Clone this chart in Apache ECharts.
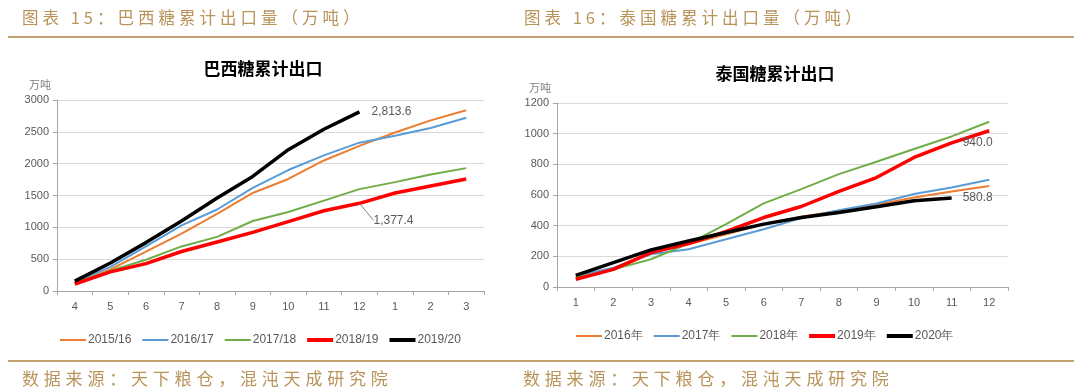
<!DOCTYPE html>
<html><head><meta charset="utf-8">
<script src="https://cdn.jsdelivr.net/npm/echarts@6/dist/echarts.min.js"></script>
<style>
html,body{margin:0;padding:0;background:#fff;}
#wrap{position:relative;width:1080px;height:391px;overflow:hidden;}
#chart{position:absolute;left:0;top:0;width:1080px;height:391px;}
.hd{position:absolute;font-family:"Noto Sans CJK SC";color:#b8935a;white-space:nowrap;line-height:20px;}
.h1{font-size:16.5px;letter-spacing:4px;}
.f1{font-size:17px;letter-spacing:4.8px;}
.rule{position:absolute;height:2px;background:#c4a373;}
</style></head>
<body><div id="wrap"><div id="chart"></div>
<div class="rule" style="left:8px;top:36px;width:1066px"></div>
<div class="rule" style="left:8px;top:360px;width:1066px"></div>
<div class="hd h1" style="left:22px;top:7px">图表 15：巴西糖累计出口量（万吨）</div>
<div class="hd h1" style="left:524px;top:7px">图表 16：泰国糖累计出口量（万吨）</div>
<div class="hd f1" style="left:22px;top:368px">数据来源：天下粮仓，混沌天成研究院</div>
<div class="hd f1" style="left:523px;top:368px">数据来源：天下粮仓，混沌天成研究院</div>
</div>
<script>
// ---- Brazil (left) ----
const brTitle = '巴西糖累计出口';
const brMonths = ['4','5','6','7','8','9','10','11','12','1','2','3'];
const brNames = ['2015/16','2016/17','2017/18','2018/19','2019/20'];
const br1516 = [120, 340, 620, 900, 1210, 1540, 1760, 2050, 2280, 2490, 2680, 2840];
const br1617 = [140, 380, 700, 1030, 1280, 1620, 1900, 2130, 2330, 2440, 2560, 2720];
const br1718 = [130, 320, 490, 700, 850, 1100, 1240, 1420, 1600, 1710, 1830, 1930];
const br1819 = [110, 300, 430, 620, 770, 920, 1090, 1260, 1377.4, 1540, 1650, 1760];
const br1920 = [155, 440, 760, 1100, 1460, 1800, 2220, 2540, 2813.6];

// ---- Thailand (right) ----
const thTitle = '泰国糖累计出口';
const thMonths = ['1','2','3','4','5','6','7','8','9','10','11','12'];
const thNames = ['2016年','2017年','2018年','2019年','2020年'];
const th2016 = [61, 122, 224, 279, 344, 410, 458, 497, 536, 584, 623, 658];
const th2017 = [72, 126, 213, 246, 311, 377, 449, 501, 545, 606, 649, 699];
const th2018 = [61, 115, 181, 283, 410, 545, 638, 736, 817, 900, 982, 1078];
const th2019 = [50, 115, 224, 283, 362, 453, 525, 623, 714, 845, 940.0, 1019];
const th2020 = [76, 159, 242, 300, 355, 410, 453, 486, 523, 562, 580.8];

const colors = ['#ED7D31','#5B9BD5','#70AD47','#FF0000','#000000'];
const widths = [2, 2, 2, 3.5, 3.5];
const gray = '#595959';
const fmt = v => Number(v).toLocaleString('en-US',{minimumFractionDigits:1, maximumFractionDigits:1});

function withLabel(arr, idx, labelOpt){
  return arr.map((v,i)=> i===idx ? {value:v, label:Object.assign({show:true, color:gray, fontSize:12, fontFamily:'Liberation Sans', formatter:p=>fmt(p.value)}, labelOpt)} : v);
}

const chart = echarts.init(document.getElementById('chart'), null, {renderer:'canvas'});

const axisLabel = {color:gray, fontSize:11, fontFamily:'Liberation Sans'};
function xAx(gi, data){
  return {type:'category', gridIndex:gi, data:data, boundaryGap:true,
    axisLine:{lineStyle:{color:'#a6a6a6'}}, axisTick:{show:true, length:4, lineStyle:{color:'#a6a6a6'}},
    axisLabel:Object.assign({margin:10}, axisLabel)};
}
function yAx(gi, max, interval){
  return {type:'value', gridIndex:gi, min:0, max:max, interval:interval,
    name:'万吨', nameLocation:'end', nameGap:10,
    nameTextStyle:{color:'#7f7f7f', fontSize:11, fontFamily:'Noto Sans CJK SC', align:'right', padding:[0,6,0,0]},
    axisLine:{show:true, lineStyle:{color:'#a6a6a6'}}, axisTick:{show:true, length:4, lineStyle:{color:'#a6a6a6'}},
    splitLine:{lineStyle:{color:'#d9d9d9'}},
    axisLabel:Object.assign({margin:8, formatter:v=>String(v)}, axisLabel)};
}

const brData = [br1516, br1617, br1718,
  withLabel(br1819, 8, {position:'right', distance:4}),
  withLabel(br1920, 8, {position:'right', distance:12})];
const thData = [th2016, th2017, th2018,
  withLabel(th2019, 10, {position:'right', distance:11}),
  withLabel(th2020, 10, {position:'right', distance:11})];

const series = [];
function mk(n, i, xi, data){
  return {name:n, type:'line', xAxisIndex:xi, yAxisIndex:xi, data:data,
    symbol:'circle', symbolSize:0.01, showSymbol:true, smooth:false,
    lineStyle:{color:colors[i], width:widths[i]}, itemStyle:{color:colors[i]}, z:2+i,
    emphasis:{disabled:true}};
}
brNames.forEach((n,i)=>{
  const s = mk(n, i, 0, brData[i]);
  if(i===3){
    s.labelLine = {show:true, smooth:false, lineStyle:{color:'#7f7f7f', width:1}};
    s.labelLayout = {dx:10, dy:17};
  }
  series.push(s);
});
thNames.forEach((n,i)=>{ series.push(mk(n, i, 1, thData[i])); });

function legendData(names){
  return names.map((n,i)=>({name:n, icon: widths[i] > 2 ? 'path://M0,0H26V4H0Z' : 'path://M0,0H26V2H0Z'}));
}
const legendBase = {itemWidth:26, itemHeight:10, itemGap:11, textStyle:{color:gray, fontSize:12, fontFamily:'Liberation Sans', padding:[0,0,0,-3]}};

chart.setOption({
  animation:false,
  title:[
    {text:brTitle, left:258, top:55, textAlign:'center', textStyle:{fontSize:17, fontWeight:'bold', color:'#000', fontFamily:'Noto Sans CJK SC'}},
    {text:thTitle, left:770, top:60, textAlign:'center', textStyle:{fontSize:17, fontWeight:'bold', color:'#000', fontFamily:'Noto Sans CJK SC'}}
  ],
  grid:[
    {left:57, top:100, width:427, height:191},
    {left:557, top:103, width:451, height:184}
  ],
  xAxis:[xAx(0, brMonths), xAx(1, thMonths)],
  yAxis:[yAx(0, 3000, 500), yAx(1, 1200, 200)],
  legend:[
    Object.assign({}, legendBase, {data:legendData(brNames), left:55, top:329}),
    Object.assign({}, legendBase, {data:legendData(thNames), left:571, top:325})
  ],
  series:series
});
</script>
</body></html>
